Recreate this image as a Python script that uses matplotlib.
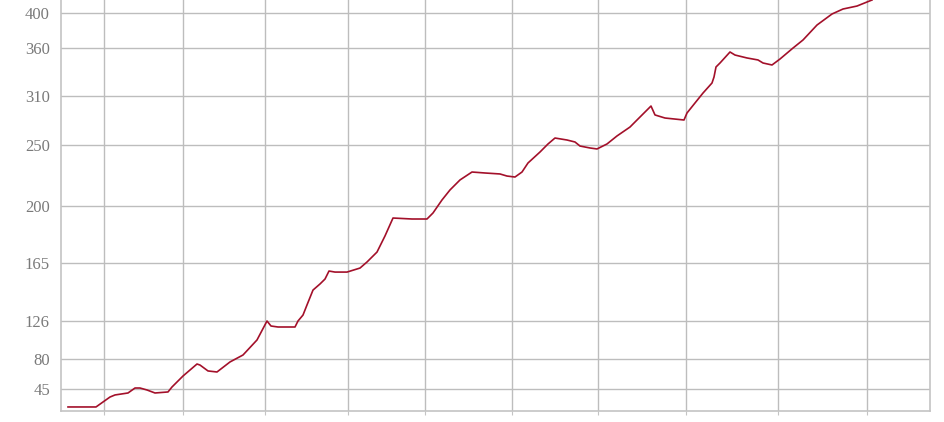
import numpy as np
import matplotlib
matplotlib.use("Agg")
import matplotlib.pyplot as plt

# Series (day index, value)
day = [7, 35, 42, 49, 54, 67, 74, 79, 86, 94,
       107, 111, 122, 136, 139, 147, 156, 169, 182, 196,
       206, 210, 217, 234, 237, 242, 246, 252, 259, 264,
       268, 274, 286, 299, 306, 316, 324, 332, 351, 366,
       372, 381, 389, 399, 411, 424, 439, 446, 454, 461,
       467, 479, 487, 494, 506, 514, 519, 529, 536, 546,
       556, 569, 576, 590, 594, 604, 623, 626, 634, 642,
       651, 653, 655, 659, 669, 674, 686, 697, 702, 711,
       719, 732, 742, 756, 771, 782, 796, 811]
value = [24.4, 24.4, 30.2, 36.0, 38.4, 40.7, 46.5, 46.5, 44.2, 40.7,
         41.9, 47.7, 60.5, 74.5, 73.3, 66.4, 65.2, 76.9, 85.2, 103.4,
         126.2, 120.3, 119.1, 119.1, 126.2, 130.2, 137.0, 147.0, 151.1, 154.4,
         159.8, 159.1, 159.1, 161.8, 165.8, 171.9, 181.8, 192.8, 192.2, 192.2,
         195.9, 205.2, 213.4, 221.6, 228.1, 227.3, 226.5, 224.8, 224.0, 228.1,
         235.5, 244.5, 251.6, 258.8, 256.4, 254.0, 249.4, 247.8, 247.0, 251.6,
         261.3, 272.1, 280.6, 297.5, 286.7, 283.0, 280.6, 289.1, 301.2, 312.8,
         323.4, 329.7, 340.3, 344.5, 356.1, 352.9, 349.8, 347.7, 344.5, 342.4,
         348.7, 360.3, 369.5, 386.6, 399.2, 404.9, 408.3, 415.2]

y_ticks = [45, 80, 126, 165, 200, 250, 310, 360, 400]
x_ticks = [43, 122, 204, 287, 364, 451, 537, 625, 717, 806]

# the value axis is not linear: piecewise mapping of values to axis height
scale_vals = [0, 45, 80, 126, 165, 200, 250, 310, 360, 400, 500]
scale_pos = [-16.9, 21.7, 51.7, 89.7, 147.7, 204.7, 265.7, 315.3, 362.7, 397.7, 485.2]


def fwd(v):
    return np.interp(v, scale_vals, scale_pos)


def inv(s):
    return np.interp(s, scale_pos, scale_vals)


fig = plt.figure(figsize=(9.45, 4.22), dpi=100)
ax = fig.add_axes([61 / 945, 11 / 422, 869 / 945, 411 / 422])
ax.set_yscale("function", functions=(fwd, inv))

ax.plot(day, value, color="#a3102a", lw=1.2, solid_joinstyle="round")

ax.set_xlim(0, 869)
ax.set_ylim(19.7, 415.2)
ax.set_yticks(y_ticks)
ax.set_yticklabels([str(t) for t in y_ticks])
ax.set_xticks(x_ticks)
ax.set_xticklabels([])
ax.minorticks_off()

ax.grid(True, color="#bdbdbd", lw=1)
ax.set_axisbelow(True)
for side in ["left", "bottom", "right"]:
    ax.spines[side].set_color("#c4c4c4")
    ax.spines[side].set_linewidth(1.2)
ax.spines["top"].set_visible(False)

ax.tick_params(axis="y", length=0, pad=8, labelsize=12, labelcolor="#7a7a7a")
ax.tick_params(axis="x", length=3, color="#c4c4c4", direction="out")
for lab in ax.get_yticklabels():
    lab.set_family("Liberation Serif")

fig.savefig("out.png", dpi=100)
